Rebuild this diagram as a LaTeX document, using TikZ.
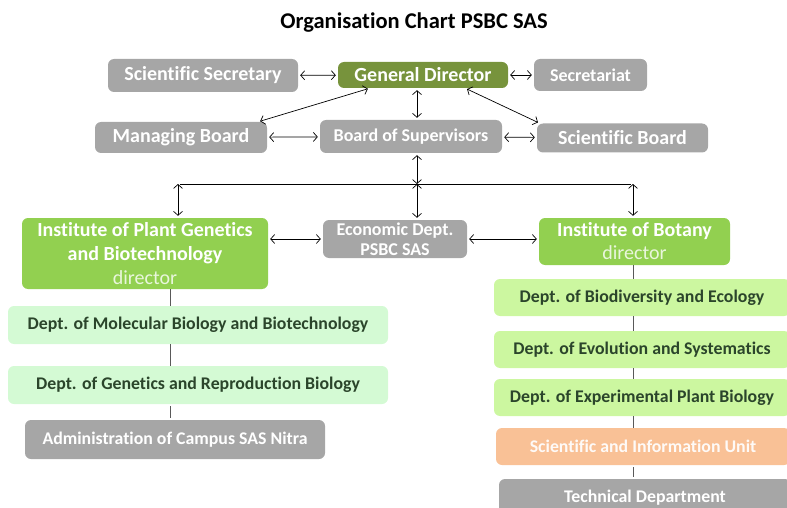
\documentclass[tikz,border=0pt]{standalone}
\usepackage{fontspec}
\setmainfont{Carlito}[Ligatures=NoCommon]
\usepackage{tikz}
\usetikzlibrary{arrows.meta,positioning,calc}

\definecolor{boxgray}{HTML}{A6A6A6}
\definecolor{gdgreen}{HTML}{77933C}
\definecolor{instgreen}{HTML}{92D050}
\definecolor{deptmint}{HTML}{D4FAD4}
\definecolor{deptlime}{HTML}{CCF7A0}
\definecolor{unitorange}{HTML}{F9C196}
\definecolor{depttext}{HTML}{2B452B}
\definecolor{stemgray}{HTML}{595959}

\tikzset{
  unit/.style={rounded corners=6pt,inner sep=0pt,text=white,align=center,
    font=\bfseries\fontsize{20}{22}\selectfont},
  office/.style={unit,fill=boxgray},
  head/.style={unit,fill=gdgreen},
  institute/.style={unit,fill=instgreen,font=\fontsize{20}{24.5}\selectfont},
  dept/.style={unit,text=depttext,font=\bfseries\fontsize{17.8}{20}\selectfont},
  small/.style={font=\bfseries\fontsize{18}{20}\selectfont},
  stem/.style={stemgray,semithick},
}

\begin{document}
\begin{tikzpicture}[
  x=1pt, y=-1pt,
  >={Straight Barb[length=4pt,width=9pt]},
  shorten <=2pt, shorten >=2pt,
  every edge/.append style={line width=0.7pt}
  ]
  \useasboundingbox (0,0) rectangle (787,508);

  \node[font=\bfseries\fontsize{22.5}{24}\selectfont] (title) at (414,23) {Organisation Chart PSBC SAS};

  % top level
  \node[office,minimum width=190pt,minimum height=33pt] (sci_sec)   at (203,75.5)   {Scientific Secretary};
  \node[head,minimum width=170pt,minimum height=26pt]   (gd)        at (423,75)     {General Director};
  \node[office,small,minimum width=113pt,minimum height=32pt] (secr) at (590.5,75) {Secretariat};
  \node[office,minimum width=172pt,minimum height=31pt] (man_board) at (181,137.5)  {Managing Board};
  \node[office,small,minimum width=182pt,minimum height=33pt] (bos) at (411,136.5) {Board of Supervisors};
  \node[office,minimum width=171pt,minimum height=29pt] (sci_board) at (622.5,138) {Scientific Board};

  % second level
  \node[institute,minimum width=246pt,minimum height=71pt] (ipgb) at (145,253.5)
    {\textbf{Institute of Plant Genetics}\\\textbf{and Biotechnology}\\[-1pt]{\color{white!80!instgreen}director}};
  \node[office,minimum width=144pt,minimum height=38pt,font=\bfseries\fontsize{18}{19.5}\selectfont]
                                                         (eco)  at (395,239)   {Economic Dept.\\PSBC SAS};
  \node[institute,minimum width=191pt,minimum height=47pt,font=\fontsize{20}{23}\selectfont]
                                                         (iob)  at (634.5,241.5)
    {\textbf{Institute of Botany}\\{\color{white!80!instgreen}director}};

  % left column
  \node[dept,fill=deptmint,minimum width=380pt,minimum height=38pt] (mol) at (198,325) {Dept. of Molecular Biology and Biotechnology};
  \node[dept,fill=deptmint,minimum width=380pt,minimum height=38pt] (gen) at (198,385) {Dept. of Genetics and Reproduction Biology};
  \node[office,dept,text=white,fill=boxgray,minimum width=300pt,minimum height=39pt] (adm) at (175,439.5) {Administration of Campus SAS Nitra};

  % right column
  \node[dept,fill=deptlime,minimum width=296pt,minimum height=37pt] (bio)  at (642,297.5) {Dept. of Biodiversity and Ecology};
  \node[dept,fill=deptlime,minimum width=296pt,minimum height=37pt] (evo)  at (642,349.5) {Dept. of Evolution and Systematics};
  \node[dept,fill=deptlime,minimum width=296pt,minimum height=37pt] (exp)  at (642,397.5) {Dept. of Experimental Plant Biology};
  \node[dept,fill=unitorange,text=white!92!unitorange,minimum width=294pt,minimum height=37pt]
                                                                    (siu)  at (643,446.5) {Scientific and Information Unit};
  \node[dept,fill=boxgray,text=white,minimum width=292pt,minimum height=38pt]
                                                                    (tech) at (645,498)   {Technical Department};

  \coordinate (hub)  at (417,184);
  \coordinate (lhub) at (178,184);
  \coordinate (rhub) at (633,184);
  \coordinate (lcol) at (170,300);
  \coordinate (rcol) at (633,300);

  \path[<->]
    (sci_sec)   edge (gd)
    (gd)        edge (secr)
    (gd.south -| hub) edge (bos.north -| hub)
    ([xshift=32pt]gd.south west)  edge ([xshift=-9pt]man_board.north east)
    ([xshift=-43pt]gd.south east) edge ([xshift=3pt]sci_board.north west)
    (man_board) edge (bos)
    (bos)       edge (sci_board)
    (bos.south -| hub) edge [shorten >=0pt] (hub)
    (hub)       edge [shorten <=0pt] (eco.north -| hub)
    (lhub)      edge [shorten <=0pt] (ipgb.north -| lhub)
    (rhub)      edge [shorten <=0pt] (iob.north -| rhub)
    (ipgb.east |- eco.west) edge (eco.west)
    (eco.east)  edge (iob.west |- eco.east)
    ;

  \draw[line width=0.7pt] (lhub) -- (rhub);

  % stems
  \draw[stem] (ipgb.south -| lcol) -- (mol.north -| lcol)
              (mol.south -| lcol)  -- (gen.north -| lcol)
              (gen.south -| lcol)  -- (adm.north -| lcol);
  \draw[stem] (iob.south -| rcol)  -- (bio.north -| rcol)
              (bio.south -| rcol)  -- (evo.north -| rcol)
              (evo.south -| rcol)  -- (exp.north -| rcol)
              (exp.south -| rcol)  -- (siu.north -| rcol)
              (siu.south -| rcol)  -- (tech.north -| rcol);
\end{tikzpicture}
\end{document}
